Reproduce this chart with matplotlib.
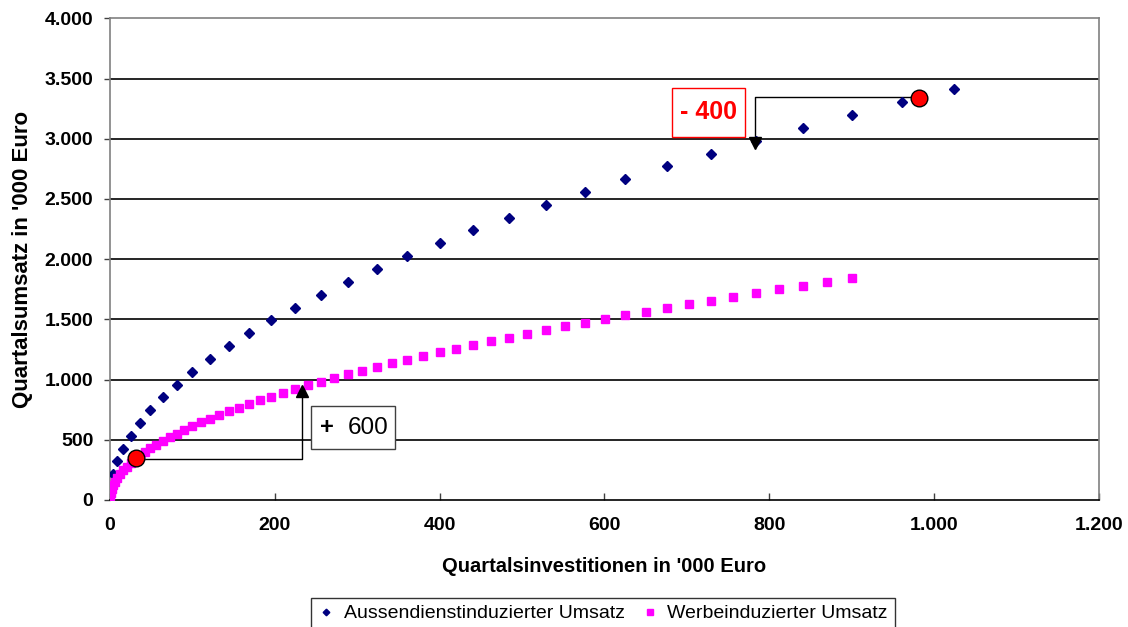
import matplotlib
matplotlib.use("Agg")
import matplotlib.pyplot as plt
from matplotlib.patches import Rectangle
from matplotlib.ticker import FuncFormatter

plt.rcParams['font.family'] = ['Liberation Sans', 'DejaVu Sans']

# Aussendienstinduzierter Umsatz (blue diamonds)
blue_x = [1, 4, 9, 16, 25, 36, 49, 64, 81, 100, 121, 144, 169, 196, 225, 256,
          289, 324, 361, 400, 441, 484, 529, 576, 625, 676, 729, 784, 841, 900,
          961, 1024]
blue_y = [107, 214, 320, 425, 533, 638, 745, 852, 958, 1065, 1172, 1278, 1385,
          1492, 1598, 1705, 1811, 1918, 2024, 2131, 2238, 2344, 2451, 2557, 2664,
          2770, 2877, 2984, 3090, 3197, 3303, 3410]

# Werbeinduzierter Umsatz (magenta squares)
mag_x = [0.25, 1, 2.25, 4, 6.25, 9, 12.25, 16, 20.25, 25, 30.25, 36, 42.25, 49,
         56.25, 64, 72.25, 81, 90.25, 100, 110.25, 121, 132.25, 144, 156.25, 169,
         182.25, 196, 210.25, 225, 240.25, 256, 272.25, 289, 306.25, 324, 342.25,
         361, 380.25, 400, 420.25, 441, 462.25, 484, 506.25, 529, 552.25, 576,
         600.25, 625, 650.25, 676, 702.25, 729, 756.25, 784, 812.25, 841, 870.25, 900]
mag_y = [31, 61, 92, 123, 153, 184, 215, 245, 276, 307, 337, 368, 399, 429, 460,
         491, 521, 552, 583, 613, 644, 675, 705, 736, 767, 797, 828, 859, 889, 920,
         951, 981, 1012, 1043, 1073, 1104, 1135, 1165, 1196, 1227, 1257, 1288, 1319,
         1349, 1380, 1411, 1441, 1472, 1503, 1533, 1564, 1595, 1625, 1656, 1687,
         1717, 1748, 1779, 1809, 1840]

# highlighted points
red_x = [32, 982]
red_y = [350, 3342]

x_ticks = [0, 200, 400, 600, 800, 1000, 1200]
y_ticks = [0, 500, 1000, 1500, 2000, 2500, 3000, 3500, 4000]

labels = ["Aussendienstinduzierter Umsatz", "Werbeinduzierter Umsatz"]
xlabel = "Quartalsinvestitionen in '000 Euro"
ylabel = "Quartalsumsatz in '000 Euro"

fig = plt.figure(figsize=(11.28, 6.27), dpi=100)
ax = fig.add_axes([110/1128, 1 - 500/627, 988.7/1128, 481.7/627])
ax.set_xlim(0, 1200)
ax.set_ylim(0, 4000)

for yv in y_ticks[1:-1]:
    ax.axhline(yv, color='black', lw=1.2, zorder=1)

ax.plot(blue_x, blue_y, linestyle='none', marker='D', ms=4.8,
        color='#000080', label=labels[0], zorder=3)
ax.plot(mag_x, mag_y, linestyle='none', marker='s', ms=5.2,
        color='#FF00FF', label=labels[1], zorder=3)

# connectors
ax.plot([red_x[0], 233, 233], [343, 343, 880], color='black', lw=1, zorder=2)
ax.plot([233], [905], marker='^', ms=8, color='black', zorder=4, linestyle='none')
ax.plot([red_x[1], 783, 783], [3350, 3350, 2990], color='black', lw=1, zorder=2)
ax.plot([783], [2965], marker='v', ms=8, color='black', zorder=4, linestyle='none')

ax.plot(red_x, red_y, linestyle='none', marker='o', ms=12,
        markerfacecolor='#FF0000', markeredgecolor='black', mew=1, zorder=5)

# annotation boxes
ax.add_patch(Rectangle((244, 422), 102, 361, facecolor='white',
                       edgecolor='#404040', lw=1, zorder=6))
ax.text(255, 602, "+", fontsize=17, fontweight='bold', ha='left', va='center', zorder=7)
ax.text(288, 602, "600", fontsize=17.5, ha='left', va='center', zorder=7)

ax.add_patch(Rectangle((682, 3014), 89, 407, facecolor='white',
                       edgecolor='#FF0000', lw=1, zorder=6))
ax.text(726, 3222, "- 400", fontsize=18, fontweight='bold', color='#FF0000',
        ha='center', va='center', zorder=7)

fmt = FuncFormatter(lambda v, p: f"{int(v):,}".replace(",", "."))
ax.set_xticks(x_ticks)
ax.set_yticks(y_ticks)
ax.xaxis.set_major_formatter(fmt)
ax.yaxis.set_major_formatter(fmt)
ax.tick_params(axis='x', direction='in', length=5, width=1, color='#404040',
               labelsize=14, pad=12)
ax.tick_params(axis='y', direction='out', length=4, width=1, color='#404040',
               labelsize=14, pad=8)
for lab in ax.get_xticklabels() + ax.get_yticklabels():
    lab.set_fontweight('bold')

for s in ['top', 'right', 'left']:
    ax.spines[s].set_color('#808080')
    ax.spines[s].set_linewidth(1.2)
ax.spines['bottom'].set_color('black')
ax.spines['bottom'].set_linewidth(1.2)

ax.set_xlabel(xlabel, fontsize=14.5, fontweight='bold', labelpad=17)
ax.set_ylabel(ylabel, fontsize=16, fontweight='bold', labelpad=8)

leg = fig.legend(loc='upper center', bbox_to_anchor=(603/1128, 29/627), ncol=2,
                 fontsize=14, frameon=True, fancybox=False, edgecolor='black',
                 handlelength=0.8, handletextpad=0.5, columnspacing=0.9,
                 borderpad=0.35, markerscale=0.7, borderaxespad=0)
leg.get_frame().set_linewidth(1)

fig.savefig("out.png", dpi=100)
